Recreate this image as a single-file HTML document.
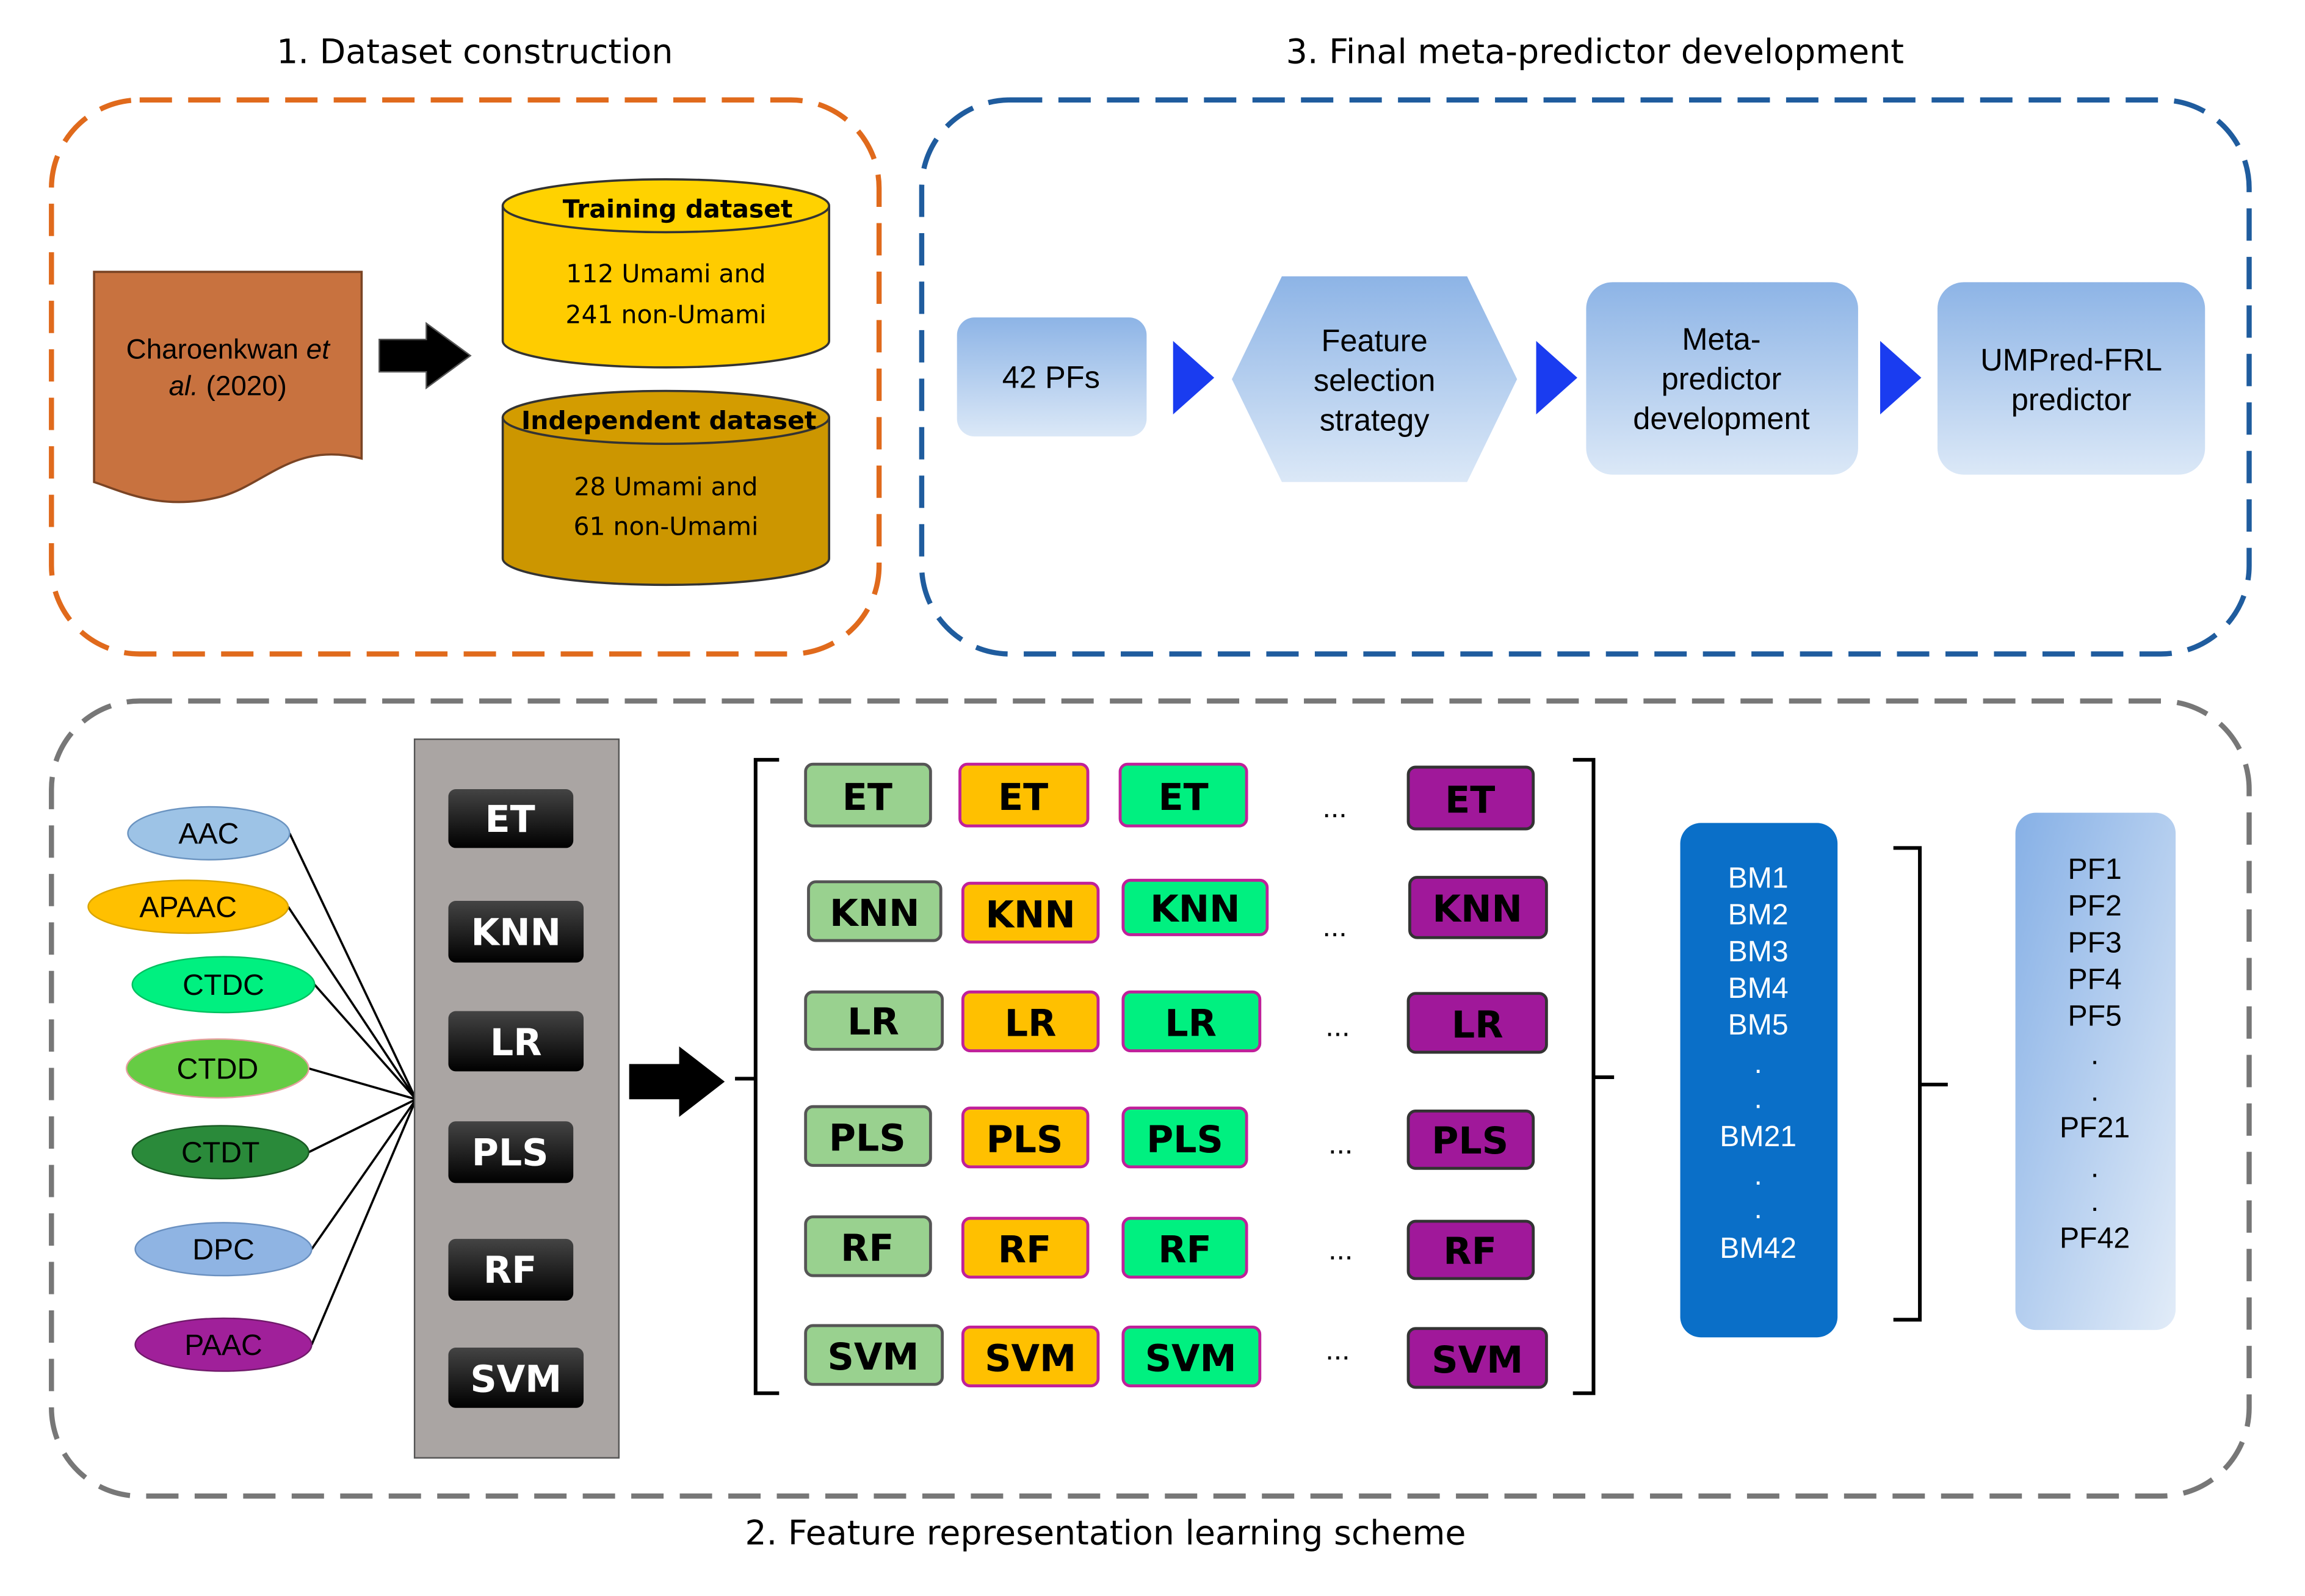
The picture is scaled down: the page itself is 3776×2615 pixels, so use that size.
<!DOCTYPE html>
<html><head><meta charset="utf-8">
<style>
html,body{margin:0;padding:0;background:#fff;}
svg{display:block;}
.t{font-family:"DejaVu Sans","Liberation Sans",sans-serif;}
.a{font-family:"Liberation Sans",sans-serif;}
.b{font-family:"DejaVu Sans","Liberation Sans",sans-serif;font-weight:bold;}
</style></head><body>
<svg width="3776" height="2615" viewBox="0 0 1568 1086" preserveAspectRatio="none" xmlns="http://www.w3.org/2000/svg">
<defs>
<linearGradient id="lb" x1="0" y1="0" x2="0" y2="1">
<stop offset="0" stop-color="#8db4e6"/><stop offset="1" stop-color="#dbe8f7"/></linearGradient>
<linearGradient id="lb2" x1="0" y1="0" x2="1" y2="1">
<stop offset="0" stop-color="#86b0e6"/><stop offset="1" stop-color="#e2ecf8"/></linearGradient>
<linearGradient id="sh" x1="0" y1="0" x2="0" y2="1">
<stop offset="0" stop-color="#444"/><stop offset="1" stop-color="#000"/></linearGradient>
</defs>

<text class="t" x="323" y="43" font-size="23" text-anchor="middle">1. Dataset construction</text>
<text class="t" x="1085" y="43" font-size="23" text-anchor="middle">3. Final meta-predictor development</text>
<text class="t" x="752" y="1051" font-size="23" text-anchor="middle">2. Feature representation learning scheme</text>

<rect x="35" y="68" width="563" height="377" rx="60" fill="none" stroke="#e06a1c" stroke-width="3.5" stroke-dasharray="22 11"/>
<rect x="627" y="68" width="903" height="377" rx="60" fill="none" stroke="#1f5c9e" stroke-width="3.5" stroke-dasharray="22 11"/>
<rect x="35" y="477" width="1495" height="541" rx="60" fill="none" stroke="#777" stroke-width="3.5" stroke-dasharray="22 11"/>

<path d="M64 185 H246 V312 C200 300 180 330 150 338 C110 348 85 335 64 328 Z" fill="#c8723f" stroke="#7a4424" stroke-width="1.5"/>
<text class="a" x="155" y="244" font-size="19" text-anchor="middle">Charoenkwan <tspan font-style="italic">et</tspan></text>
<text class="a" x="155" y="269" font-size="19" text-anchor="middle"><tspan font-style="italic">al.</tspan> (2020)</text>
<path d="M258 231 H290 V220 L320 242 L290 264 V253 H258 Z" fill="#000" stroke="#555" stroke-width="1"/>

<path d="M342 140 V232 A111 18 0 0 0 564 232 V140" fill="#ffcc00" stroke="#333" stroke-width="1.5"/>
<ellipse cx="453" cy="140" rx="111" ry="18" fill="#ffd200" stroke="#333" stroke-width="1.5"/>
<text class="b" x="461" y="148" font-size="17" text-anchor="middle">Training dataset</text>
<text class="t" x="453" y="192" font-size="17" text-anchor="middle">112 Umami and</text>
<text class="t" x="453" y="220" font-size="17" text-anchor="middle">241 non-Umami</text>

<path d="M342 284 V380 A111 18 0 0 0 564 380 V284" fill="#cc9600" stroke="#333" stroke-width="1.5"/>
<ellipse cx="453" cy="284" rx="111" ry="18" fill="#d39c00" stroke="#333" stroke-width="1.5"/>
<text class="b" x="455" y="292" font-size="17" text-anchor="middle">Independent dataset</text>
<text class="t" x="453" y="337" font-size="17" text-anchor="middle">28 Umami and</text>
<text class="t" x="453" y="364" font-size="17" text-anchor="middle">61 non-Umami</text>

<rect x="651" y="216" width="129" height="81" rx="12" fill="url(#lb)"/>
<text class="a" x="715" y="264" font-size="21" text-anchor="middle">42 PFs</text>
<polygon points="798,232 826,257 798,282" fill="#1a3cf0"/>
<polygon points="838,258 872,188 998,188 1032,258 998,328 872,328" fill="url(#lb)"/>
<text class="a" x="935" y="239" font-size="21" text-anchor="middle">Feature</text>
<text class="a" x="935" y="266" font-size="21" text-anchor="middle">selection</text>
<text class="a" x="935" y="293" font-size="21" text-anchor="middle">strategy</text>
<polygon points="1045,232 1073,257 1045,282" fill="#1a3cf0"/>
<rect x="1079" y="192" width="185" height="131" rx="18" fill="url(#lb)"/>
<text class="a" x="1171" y="238" font-size="21" text-anchor="middle">Meta-</text>
<text class="a" x="1171" y="265" font-size="21" text-anchor="middle">predictor</text>
<text class="a" x="1171" y="292" font-size="21" text-anchor="middle">development</text>
<polygon points="1279,232 1307,257 1279,282" fill="#1a3cf0"/>
<rect x="1318" y="192" width="182" height="131" rx="18" fill="url(#lb)"/>
<text class="a" x="1409" y="252" font-size="21" text-anchor="middle">UMPred-FRL</text>
<text class="a" x="1409" y="279" font-size="21" text-anchor="middle">predictor</text>

<g stroke="#000" stroke-width="1.5">
<line x1="197" y1="567" x2="283" y2="748"/>
<line x1="196" y1="617" x2="283" y2="748"/>
<line x1="214" y1="670" x2="283" y2="748"/>
<line x1="210" y1="727" x2="283" y2="748"/>
<line x1="210" y1="784" x2="283" y2="748"/>
<line x1="212" y1="850" x2="283" y2="748"/>
<line x1="212" y1="915" x2="283" y2="748"/>
</g>
<g class="a" font-size="20" text-anchor="middle">
<ellipse cx="142" cy="567" rx="55" ry="18" fill="#9dc3e6" stroke="#6a93c0"/><text x="142" y="574">AAC</text>
<ellipse cx="128" cy="617" rx="68" ry="18" fill="#ffc000" stroke="#d9a400"/><text x="128" y="624">APAAC</text>
<ellipse cx="152" cy="670" rx="62" ry="19" fill="#00f080" stroke="#00c060"/><text x="152" y="677">CTDC</text>
<ellipse cx="148" cy="727" rx="62" ry="20" fill="#66cc44" stroke="#e6a0a0"/><text x="148" y="734">CTDD</text>
<ellipse cx="150" cy="784" rx="60" ry="18" fill="#2a8a3a" stroke="#1a5a24"/><text x="150" y="791">CTDT</text>
<ellipse cx="152" cy="850" rx="60" ry="18" fill="#8fb4e3" stroke="#6a90c0"/><text x="152" y="857">DPC</text>
<ellipse cx="152" cy="915" rx="60" ry="18" fill="#a0209a" stroke="#701a6a"/><text x="152" y="922">PAAC</text>
</g>

<rect x="282" y="503" width="139" height="489" fill="#aaa5a3" stroke="#555" stroke-width="1"/>
<g class="b" font-size="25" fill="#fff" text-anchor="middle">
<rect x="305" y="537" width="85" height="40" rx="5" fill="url(#sh)"/><text x="347" y="566">ET</text>
<rect x="305" y="613" width="92" height="42" rx="5" fill="url(#sh)"/><text x="351" y="643">KNN</text>
<rect x="305" y="688" width="92" height="41" rx="5" fill="url(#sh)"/><text x="351" y="718">LR</text>
<rect x="305" y="763" width="85" height="42" rx="5" fill="url(#sh)"/><text x="347" y="793">PLS</text>
<rect x="305" y="843" width="85" height="42" rx="5" fill="url(#sh)"/><text x="347" y="873">RF</text>
<rect x="305" y="917" width="92" height="41" rx="5" fill="url(#sh)"/><text x="351" y="947">SVM</text>
</g>
<path d="M428 724 H462 V712 L493 736 L462 760 V748 H428 Z" fill="#000"/>

<path d="M530 517 H514 V948 H530" fill="none" stroke="#000" stroke-width="2.5"/>
<line x1="500" y1="734" x2="514" y2="734" stroke="#000" stroke-width="2.5"/>
<path d="M1070 517 H1084 V948 H1070" fill="none" stroke="#000" stroke-width="2.5"/>
<line x1="1084" y1="733" x2="1098" y2="733" stroke="#000" stroke-width="2.5"/>

<g class="b" font-size="25" text-anchor="middle" stroke-width="2">
<rect x="548" y="520" width="85" height="42" rx="5" fill="#99d18f" stroke="#555"/><text x="590" y="551">ET</text>
<rect x="653" y="520" width="87" height="42" rx="5" fill="#ffc000" stroke="#c0209a"/><text x="696" y="551">ET</text>
<rect x="762" y="520" width="86" height="42" rx="5" fill="#00f080" stroke="#c0209a"/><text x="805" y="551">ET</text>
<rect x="958" y="522" width="85" height="42" rx="5" fill="#a0189a" stroke="#333"/><text x="1000" y="553">ET</text>
<rect x="550" y="600" width="90" height="40" rx="5" fill="#99d18f" stroke="#555"/><text x="595" y="630">KNN</text>
<rect x="655" y="601" width="92" height="40" rx="5" fill="#ffc000" stroke="#c0209a"/><text x="701" y="631">KNN</text>
<rect x="764" y="599" width="98" height="37" rx="5" fill="#00f080" stroke="#c0209a"/><text x="813" y="627">KNN</text>
<rect x="959" y="597" width="93" height="41" rx="5" fill="#a0189a" stroke="#333"/><text x="1005" y="627">KNN</text>
<rect x="548" y="675" width="93" height="39" rx="5" fill="#99d18f" stroke="#555"/><text x="594" y="704">LR</text>
<rect x="655" y="675" width="92" height="40" rx="5" fill="#ffc000" stroke="#c0209a"/><text x="701" y="705">LR</text>
<rect x="764" y="675" width="93" height="40" rx="5" fill="#00f080" stroke="#c0209a"/><text x="810" y="705">LR</text>
<rect x="958" y="676" width="94" height="40" rx="5" fill="#a0189a" stroke="#333"/><text x="1005" y="706">LR</text>
<rect x="548" y="753" width="85" height="40" rx="5" fill="#99d18f" stroke="#555"/><text x="590" y="783">PLS</text>
<rect x="655" y="754" width="85" height="40" rx="5" fill="#ffc000" stroke="#c0209a"/><text x="697" y="784">PLS</text>
<rect x="764" y="754" width="84" height="40" rx="5" fill="#00f080" stroke="#c0209a"/><text x="806" y="784">PLS</text>
<rect x="958" y="756" width="85" height="39" rx="5" fill="#a0189a" stroke="#333"/><text x="1000" y="785">PLS</text>
<rect x="548" y="828" width="85" height="40" rx="5" fill="#99d18f" stroke="#555"/><text x="590" y="858">RF</text>
<rect x="655" y="829" width="85" height="40" rx="5" fill="#ffc000" stroke="#c0209a"/><text x="697" y="859">RF</text>
<rect x="764" y="829" width="84" height="40" rx="5" fill="#00f080" stroke="#c0209a"/><text x="806" y="859">RF</text>
<rect x="958" y="831" width="85" height="39" rx="5" fill="#a0189a" stroke="#333"/><text x="1000" y="860">RF</text>
<rect x="548" y="902" width="93" height="40" rx="5" fill="#99d18f" stroke="#555"/><text x="594" y="932">SVM</text>
<rect x="655" y="903" width="92" height="40" rx="5" fill="#ffc000" stroke="#c0209a"/><text x="701" y="933">SVM</text>
<rect x="764" y="903" width="93" height="40" rx="5" fill="#00f080" stroke="#c0209a"/><text x="810" y="933">SVM</text>
<rect x="958" y="904" width="94" height="40" rx="5" fill="#a0189a" stroke="#333"/><text x="1005" y="934">SVM</text>
</g>
<g class="a" font-size="20" text-anchor="middle">
<text x="908" y="556">...</text><text x="908" y="637">...</text><text x="910" y="705">...</text>
<text x="912" y="785">...</text><text x="912" y="857">...</text><text x="910" y="925">...</text>
</g>

<rect x="1143" y="560" width="107" height="350" rx="14" fill="#0a6fc8"/>
<g class="a" font-size="20" fill="#fff" text-anchor="middle">
<text x="1196" y="604">BM1</text><text x="1196" y="629">BM2</text><text x="1196" y="654">BM3</text>
<text x="1196" y="679">BM4</text><text x="1196" y="704">BM5</text>
<text x="1196" y="730">.</text><text x="1196" y="754">.</text>
<text x="1196" y="780">BM21</text>
<text x="1196" y="806">.</text><text x="1196" y="829">.</text>
<text x="1196" y="856">BM42</text>
</g>
<path d="M1288 577 H1306 V898 H1288" fill="none" stroke="#000" stroke-width="2.5"/>
<line x1="1306" y1="738" x2="1325" y2="738" stroke="#000" stroke-width="2.5"/>

<rect x="1371" y="553" width="109" height="352" rx="14" fill="url(#lb2)"/>
<g class="a" font-size="20" fill="#000" text-anchor="middle">
<text x="1425" y="598">PF1</text><text x="1425" y="623">PF2</text><text x="1425" y="648">PF3</text>
<text x="1425" y="673">PF4</text><text x="1425" y="698">PF5</text>
<text x="1425" y="724">.</text><text x="1425" y="749">.</text>
<text x="1425" y="774">PF21</text>
<text x="1425" y="801">.</text><text x="1425" y="824">.</text>
<text x="1425" y="849">PF42</text>
</g>
</svg>
</body></html>
